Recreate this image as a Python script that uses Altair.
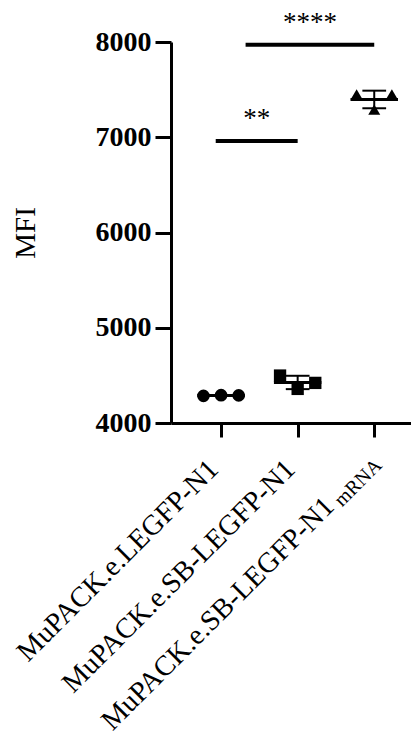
import altair as alt
import pandas as pd

# ---- data ----
names = ["MuPACK.e.LEGFP-N1", "MuPACK.e.SB-LEGFP-N1", "MuPACK.e.SB-LEGFP-N1"]
subs = ["", "", "mRNA"]
shapes = ["circle", "square", "triangle-up"]
g1 = [4285, 4292, 4290]
g2 = [4498, 4358, 4421]
g3 = [7450, 7290, 7450]
sig_text = ["**", "****"]
sig_x1 = [-0.07, 0.32]
sig_x2 = [1.0, 2.0]
sig_y = [6960, 7970]
y_ticks = [4000, 5000, 6000, 7000, 8000]

W, H = 240, 381
FONT = "Liberation Serif"

rows = []
for gi, vals in enumerate([g1, g2, g3]):
    for r, v in enumerate(vals):
        rows.append({"idx": gi, "rep": r, "value": v, "shape": shapes[gi]})
df = pd.DataFrame(rows)

sig_df = pd.DataFrame({"label": sig_text, "x1": sig_x1, "x2": sig_x2, "y": sig_y})
lab_df = pd.DataFrame({"idx": [0, 1, 2], "name": names, "sub": subs})

xscale = alt.Scale(domain=[-0.654, 2.48], nice=False, zero=False)
yscale = alt.Scale(domain=[y_ticks[0], y_ticks[-1]], nice=False, zero=False)

xaxis = alt.Axis(values=[0, 1, 2], labels=False, title=None, tickSize=14, tickWidth=3,
                 domainWidth=3, domainColor="black", tickColor="black", grid=False)
yaxis = alt.Axis(values=y_ticks, format="d", tickSize=16, tickWidth=3, domainWidth=3,
                 domainColor="black", tickColor="black", labelFont=FONT,
                 labelFontSize=28, labelFontWeight="bold", labelColor="black",
                 labelPadding=4, title="MFI", titleFont=FONT, titleFontSize=29,
                 titleFontWeight="normal", titleColor="black", titlePadding=55, grid=False)


def X(field):
    return alt.X(field, scale=xscale, axis=xaxis)


def Y(field):
    return alt.Y(field, scale=yscale, axis=yaxis)


pts = alt.Chart(df).transform_calculate(
    xp="datum.idx + (datum.rep - 1) * 0.23"
).mark_point(filled=True, opacity=1, color="black").encode(
    x=X("xp:Q"),
    y=Y("value:Q"),
    shape=alt.Shape("shape:N", scale=alt.Scale(domain=shapes, range=shapes), legend=None),
    size=alt.Size("shape:N", scale=alt.Scale(domain=shapes, range=[160, 144, 190]), legend=None),
)

stats = alt.Chart(df).transform_aggregate(
    mean="mean(value)", sd="stdev(value)", groupby=["idx"]
).transform_calculate(
    lo="datum.mean - datum.sd", hi="datum.mean + datum.sd",
    m1="datum.idx - 0.31", m2="datum.idx + 0.31",
    c1="datum.idx - 0.155", c2="datum.idx + 0.155",
)

mean_line = stats.mark_rule(strokeWidth=3, color="black").encode(
    x=X("m1:Q"), x2="m2:Q", y=Y("mean:Q"))
sd_line = stats.mark_rule(strokeWidth=2, color="black").encode(
    x=X("idx:Q"), y=Y("lo:Q"), y2="hi:Q")
cap_hi = stats.mark_rule(strokeWidth=2, color="black").encode(
    x=X("c1:Q"), x2="c2:Q", y=Y("hi:Q"))
cap_lo = stats.mark_rule(strokeWidth=2, color="black").encode(
    x=X("c1:Q"), x2="c2:Q", y=Y("lo:Q"))

sig_lines = alt.Chart(sig_df).mark_rule(strokeWidth=4, color="black").encode(
    x=X("x1:Q"), x2="x2:Q", y=Y("y:Q"))
sig_labels = alt.Chart(sig_df).transform_calculate(
    xm="(datum.x1 + datum.x2) / 2"
).mark_text(font=FONT, fontSize=27, color="black", baseline="alphabetic", dy=-14).encode(
    x=X("xm:Q"), y=Y("y:Q"), text="label:N")

lab_main = alt.Chart(lab_df).transform_filter("datum.sub == ''").mark_text(
    font=FONT, fontSize=28.5, color="black", angle=315, align="right", baseline="middle",
    dx=-34.6, dy=24).encode(x=X("idx:Q"), y=alt.value(H), text="name:N")
lab_main3 = alt.Chart(lab_df).transform_filter("datum.sub != ''").mark_text(
    font=FONT, fontSize=28.5, color="black", angle=315, align="right", baseline="middle",
    dx=-87.6, dy=24).encode(x=X("idx:Q"), y=alt.value(H), text="name:N")
lab_sub = alt.Chart(lab_df).transform_filter("datum.sub != ''").mark_text(
    font=FONT, fontSize=20, color="black", angle=315, align="right", baseline="middle",
    dx=-24.7, dy=31).encode(x=X("idx:Q"), y=alt.value(H), text="sub:N")

chart = alt.layer(
    pts, mean_line, sd_line, cap_hi, cap_lo, sig_lines, sig_labels,
    lab_main, lab_main3, lab_sub
).properties(
    width=W, height=H,
    padding={"left": 3, "top": 0, "right": 0, "bottom": 0},
).configure_view(stroke=None).configure_axis(grid=False)

chart.save("out.html", embed_options={"renderer": "svg", "actions": False})
